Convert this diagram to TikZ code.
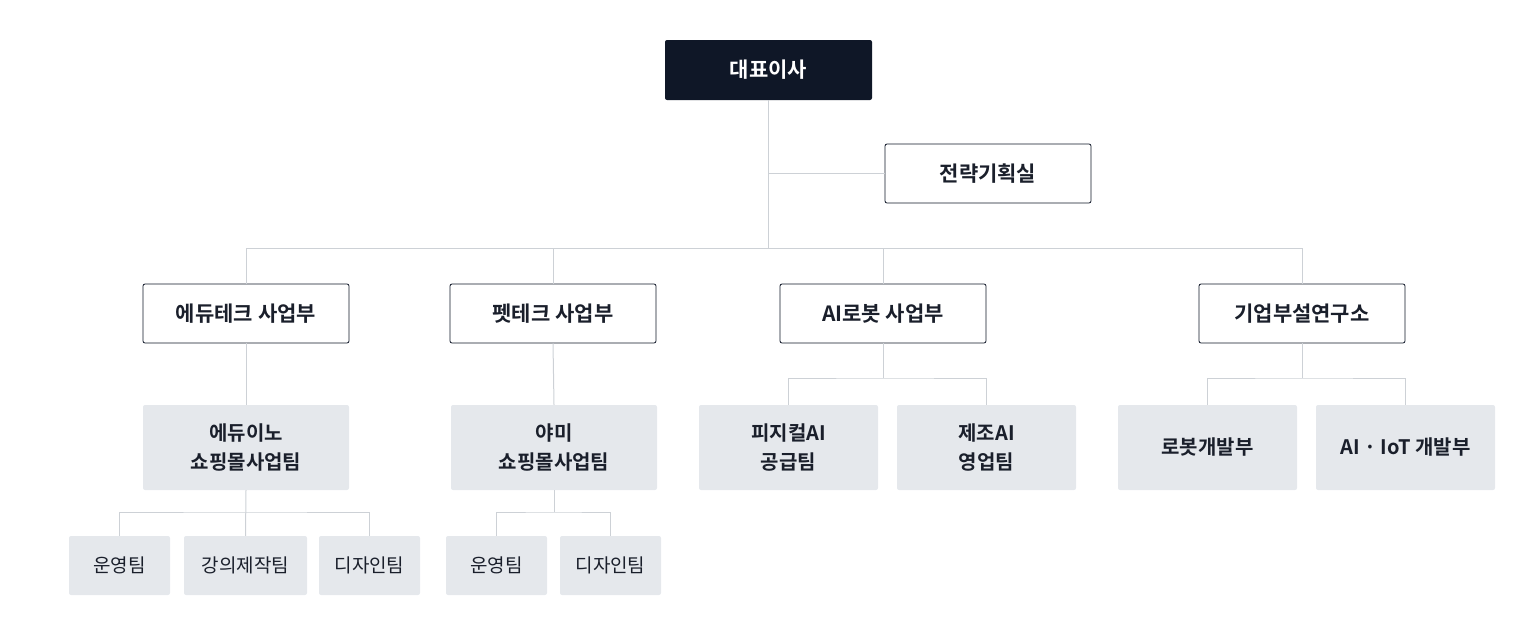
\documentclass[tikz,border=0pt]{standalone}
\usepackage{fontspec}
\setmainfont{Noto Sans CJK KR}
\newfontfamily\kb{Noto Sans CJK KR Bold}
\definecolor{navy}{HTML}{0F1727}
\definecolor{boxgray}{HTML}{E5E8EC}
\definecolor{linegray}{HTML}{CDD1D6}
\definecolor{txt}{HTML}{1A1F2B}
\begin{document}
\begin{tikzpicture}[x=1pt,y=-1pt,
  base/.style={rounded corners=2pt,align=center,inner sep=0pt,text=txt},
  top/.style={base,fill=navy,text=white,minimum width=207pt,minimum height=60pt,font=\kb\fontsize{21}{24}\selectfont},
  dept/.style={base,draw=navy,fill=white,line width=0.8pt,minimum width=206pt,minimum height=59pt,font=\kb\fontsize{21}{24}\selectfont},
  unit/.style={base,fill=boxgray,minimum height=85pt,font=\kb\fontsize{20}{29}\selectfont},
  team/.style={base,fill=boxgray,minimum height=59pt,font=\fontsize{19}{22}\selectfont},
  con/.style={draw=linegray,line width=1pt}]
\useasboundingbox (0,0) rectangle (1528,635);
\node[top] (ceo) at (768.5,70) {대표이사};
\node[dept] (strat) at (988,173.5) {전략기획실};
\node[dept] (edu) at (246,313.5) {에듀테크 사업부};
\node[dept] (pet) at (553,313.5) {펫테크 사업부};
\node[dept] (air) at (883,313.5) {AI로봇 사업부};
\node[dept] (lab) at (1302,313.5) {기업부설연구소};
\node[unit,minimum width=206pt] (eduino) at (246,447.5) {에듀이노\\쇼핑몰사업팀};
\node[unit,minimum width=206pt] (yami) at (554,447.5) {야미\\쇼핑몰사업팀};
\node[unit,minimum width=179pt] (phys) at (788.5,447.5) {피지컬AI\\공급팀};
\node[unit,minimum width=179pt] (manu) at (986.5,447.5) {제조AI\\영업팀};
\node[unit,minimum width=179pt] (robot) at (1207.5,447.5) {로봇개발부};
\node[unit,minimum width=179pt] (iot) at (1405.5,447.5) {AI · IoT 개발부};
\node[team,minimum width=101pt] (op1) at (119.5,565.5) {운영팀};
\node[team,minimum width=123pt] (lec) at (245.5,565.5) {강의제작팀};
\node[team,minimum width=101pt] (des1) at (369.5,565.5) {디자인팀};
\node[team,minimum width=101pt] (op2) at (496.5,565.5) {운영팀};
\node[team,minimum width=101pt] (des2) at (610.5,565.5) {디자인팀};
\coordinate (hub) at (768.5,248);
\coordinate (hubA) at (883,378);
\coordinate (hubL) at (1302,378);
\coordinate (hubE) at (246,512);
\coordinate (hubY) at (554,512);
\draw[con] (ceo.south) -- (hub);
\draw[con] (ceo.south |- strat.west) -- (strat.west);
\draw[con] (edu.north) |- (lab.north |- hub) -- (lab.north);
\draw[con] (pet.north) -- (pet.north |- hub);
\draw[con] (air.north) -- (air.north |- hub);
\draw[con] (edu.south) -- (eduino.north);
\draw[con] (pet.south) -- (yami.north);
\draw[con] (air.south) -- (hubA);
\draw[con] (phys.north) |- (hubA) -| (manu.north);
\draw[con] (lab.south) -- (hubL);
\draw[con] (robot.north) |- (hubL) -| (iot.north);
\draw[con] (eduino.south) -- (lec.north);
\draw[con] (op1.north) |- (hubE) -| (des1.north);
\draw[con] (yami.south) -- (hubY);
\draw[con] (op2.north) |- (hubY) -| (des2.north);
\end{tikzpicture}
\end{document}
